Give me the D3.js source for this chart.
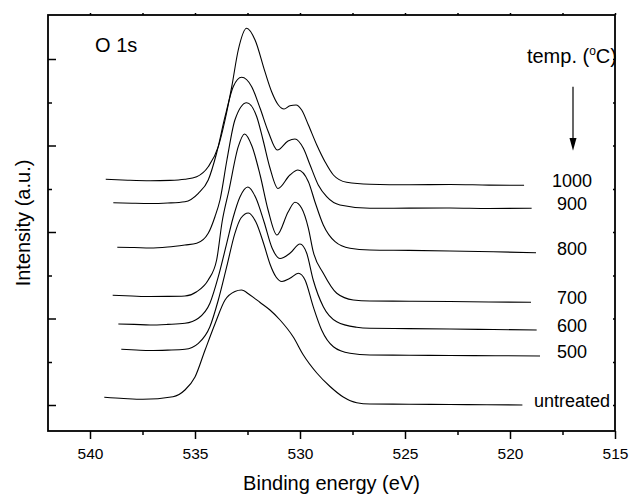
<!DOCTYPE html>
<html>
<head>
<meta charset="utf-8">
<script src="https://cdn.jsdelivr.net/npm/d3@7"></script>
<style>
  body { margin: 0; background: #fff; }
  text { font-family: "Liberation Sans", Arial, sans-serif; fill: #000; }
</style>
</head>
<body>
<svg id="chart" width="632" height="495"></svg>
<script>
// O 1s spectra, [binding energy (eV), intensity (a.u.)]
const s1000 = [[539.25,251.7],[538.2,250.8],[537.14,250.3],[536.2,250.6],[535.48,251.7],[534.92,254.3],[534.37,264.3],[533.89,284.3],
  [533.57,311],[533.25,344.3],[532.94,381],[532.54,402.7],[532.14,391],[531.67,359.3],[531.35,339.3],
  [531.03,326],[530.76,322],[530.48,325.3],[530.19,326],[529.92,321],[529.60,306],[529.20,286],
  [528.81,269.3],[528.41,256],[527.78,248.7],[526.67,246.7],[524.8,246.2],[522.86,246.5],[521.0,245.9],[519.33,245.7]];
const s900 = [[538.89,228.3],[538.0,227.8],[537.14,227.5],[536.3,228.0],[535.48,229.3],[534.84,237.7],[534.37,251],[533.97,278],
  [533.57,314.3],[533.18,344.3],[532.78,353.7],[532.30,344.3],[531.90,322.7],[531.51,299.3],[531.08,281],
  [530.57,290],[530.24,292],[529.84,282.7],[529.52,266],[529.13,246],[528.73,234.3],
  [528.10,226],[526.67,222.7],[524.8,222.9],[522.86,223],[521.0,222.5],[518.97,222.7]];
const s800 = [[538.70,183.7],[537.9,183.5],[537.14,183],[536.3,184.0],[535.48,186],[534.92,187.7],[534.37,197.7],[534.05,214.3],
  [533.81,231],[533.48,271],[533.10,311],[532.54,328.3],[532.06,314.3],[531.76,291],[531.43,263],
  [531.05,242.5],[530.48,256],[530.10,261],[529.60,249.3],[529.29,229.3],[528.89,206],[528.33,189.3],
  [527.62,182.7],[526.67,181],[524.8,180.6],[522.86,180],[520.8,179.2],[518.76,178.3]];
const s700 = [[538.92,135.7],[538.0,135.0],[537.14,134.5],[536.3,134.6],[535.48,135],[534.92,139.3],[534.37,151],[533.97,171],
  [533.71,209],[533.38,241],[532.94,284.3],[532.64,297],[532.29,285],[531.90,256],[531.52,221],
  [531.10,196],[530.56,219.3],[530.24,228.7],[529.92,222.7],[529.60,202.7],[529.37,179.3],
  [528.89,157.7],[528.25,137.7],[527.46,131],[526.67,130],[524.8,129.8],[522.86,129.5],[521.0,129.0],[519.00,128.7]];
const s600 = [[538.65,107],[537.9,106.6],[537.14,106],[536.3,106.6],[535.48,107.7],[534.84,112.7],[534.29,127.7],[533.89,154.3],
  [533.49,187.7],[533.19,213],[532.86,234],[532.48,244],[532.10,233],[531.71,209],[531.33,183],
  [530.95,172.5],[530.48,177.7],[530.00,187],[529.68,177.7],[529.37,151],[528.89,124.3],[528.25,109.3],
  [527.30,103.7],[526.67,102.7],[524.8,102.4],[522.86,102],[520.8,101.5],[518.73,101]];
const s500 = [[538.51,81.7],[537.8,81.0],[537.14,80.5],[536.3,80.9],[535.48,81.7],[534.84,87.7],[534.29,104.3],[533.89,131],
  [533.49,164.3],[533.10,197.7],[532.81,213],[532.46,218],[532.10,209],[531.71,186],[531.43,167],
  [531.14,154],[530.86,149.5],[530.48,152.7],[530.08,157.7],[529.76,151],[529.37,124.3],[528.97,101],
  [528.41,84.3],[527.62,77.7],[526.67,76],[524.8,75.8],[522.86,75.5],[520.7,75.3],[518.57,75]];
const sUntreated = [[539.32,33.7],[538.4,32.5],[537.48,31.7],[536.05,34.3],[535.48,41],[535.00,54],[534.52,81],
  [534.05,107],[533.57,131],[533.10,139.5],[532.79,141],[532.38,136],[531.90,128.5],[531.43,121],
  [530.95,111],[530.32,94],[529.84,76],[529.20,58],[528.57,44.5],[527.94,34],[527.30,28.3],
  [526.67,27],[524.8,26.8],[522.86,26.5],[521.1,26.3],[519.41,26]];

const series = [s1000, s900, s800, s700, s600, s500, sUntreated];
const seriesLabels = ["1000", "900", "800", "700", "600", "500", "untreated"];

const xMajor = [540, 535, 530, 525, 520, 515];
const xMinor = [537.5, 532.5, 527.5, 522.5, 517.5];
const yMajor = [26, 112.5, 199, 285.5, 372];
const yMinor = [69, 155.5, 242, 328.5];

const svg = d3.select("#chart");
const margin = {left: 48, top: 15, right: 17, bottom: 64};
const width = 632 - margin.left - margin.right;
const height = 495 - margin.top - margin.bottom;

const x = d3.scaleLinear().domain([542, 515]).range([0, width]);
const y = d3.scaleLinear().domain([0, 416]).range([height, 0]);

const g = svg.append("g").attr("transform", `translate(${margin.left},${margin.top})`);

// curves (energy falls left to right, so pixel x rises along each array)
const line = d3.line()
  .x(d => x(d[0]))
  .y(d => y(d[1]))
  .curve(d3.curveMonotoneX);

g.selectAll(".spec")
  .data(series)
  .enter().append("path")
  .attr("class", "spec")
  .attr("d", line)
  .attr("fill", "none")
  .attr("stroke", "#000")
  .attr("stroke-width", 1.1);

// temperature labels at the end of each curve
g.selectAll(".lab")
  .data(series)
  .enter().append("text")
  .attr("class", "lab")
  .attr("x", x(517.05))
  .attr("y", d => y(d[d.length - 1][1]) + 2)
  .attr("text-anchor", "middle")
  .attr("font-size", 18)
  .text((d, i) => seriesLabels[i]);

// axes
function styleAxis(sel) {
  sel.select(".domain").remove();
  sel.selectAll(".tick line").attr("stroke", "#000").attr("stroke-width", 1.5);
}

g.append("g").attr("transform", `translate(0,${height})`)
  .call(d3.axisBottom(x).tickValues(xMajor).tickSize(8).tickPadding(9).tickFormat(d3.format("d")))
  .call(styleAxis)
  .call(s => s.selectAll(".tick text").attr("font-size", 15.5)
    .style("font-family", "'Liberation Sans', Arial, sans-serif"));
g.append("g").attr("transform", `translate(0,${height})`)
  .call(d3.axisBottom(x).tickValues(xMinor).tickSize(4).tickFormat(""))
  .call(styleAxis);

g.append("g")
  .call(d3.axisTop(x).tickValues(xMajor.concat(xMinor)).tickSize(2).tickFormat(""))
  .call(styleAxis);

g.append("g")
  .call(d3.axisRight(y).tickValues(yMajor).tickSize(8).tickFormat(""))
  .call(styleAxis);
g.append("g")
  .call(d3.axisRight(y).tickValues(yMinor).tickSize(4).tickFormat(""))
  .call(styleAxis);

g.append("g").attr("transform", `translate(${width},0)`)
  .call(d3.axisLeft(y).tickValues(yMajor.concat(yMinor)).tickSize(2).tickFormat(""))
  .call(styleAxis);

// frame
g.append("rect")
  .attr("width", width)
  .attr("height", height)
  .attr("fill", "none")
  .attr("stroke", "#000")
  .attr("stroke-width", 1.8);

// axis titles
svg.append("text")
  .attr("x", margin.left + width / 2)
  .attr("y", 490)
  .attr("text-anchor", "middle")
  .attr("font-size", 20)
  .text("Binding energy (eV)");

svg.append("text")
  .attr("transform", `translate(30,${margin.top + height / 2}) rotate(-90)`)
  .attr("text-anchor", "middle")
  .attr("font-size", 20)
  .text("Intensity (a.u.)");

// annotations
g.append("text")
  .attr("x", x(539.76))
  .attr("y", y(379.3))
  .attr("font-size", 20)
  .text("O 1s");

const temp = g.append("text")
  .attr("x", x(517.05))
  .attr("y", y(367.7))
  .attr("text-anchor", "middle")
  .attr("font-size", 20);
temp.append("tspan").text("temp. (");
temp.append("tspan").attr("font-size", 12).attr("dy", -8).text("o");
temp.append("tspan").attr("dy", 8).text("C)");

// arrow
const ax = x(517);
g.append("line")
  .attr("x1", ax).attr("x2", ax)
  .attr("y1", y(344.3)).attr("y2", y(290))
  .attr("stroke", "#000")
  .attr("stroke-width", 1.2);
g.append("path")
  .attr("d", `M${ax - 3.5},${y(293)} L${ax + 3.5},${y(293)} L${ax},${y(280.3)} Z`)
  .attr("fill", "#000");
</script>
</body>
</html>
